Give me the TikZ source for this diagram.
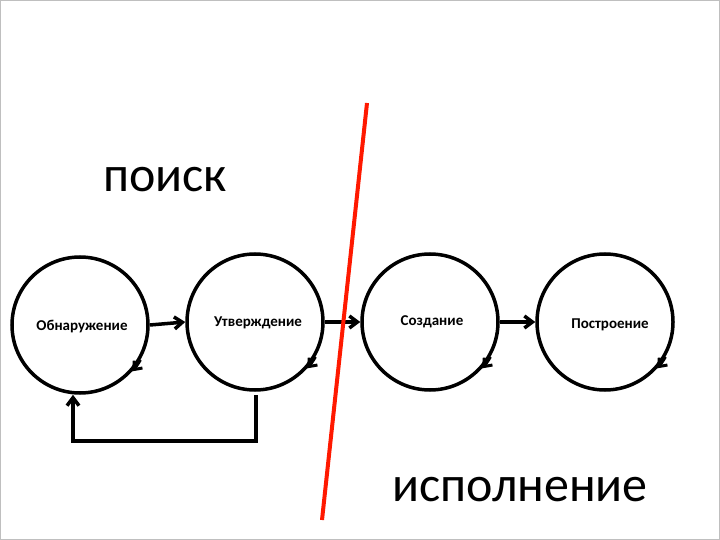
\documentclass[tikz,border=0pt]{standalone}
\usepackage{fontspec}
\setmainfont{Carlito}
\usetikzlibrary{arrows.meta}
\begin{document}
\begin{tikzpicture}[x=1pt,y=-1pt,
  circ/.style={draw,line width=3.5pt,circle,minimum size=136pt,inner sep=0pt},
  lbl/.style={font=\fontsize{15}{17}\selectfont\bfseries},
  conn/.style={line width=3.5pt,-{Straight Barb[length=8pt,width=12pt]}}]
\useasboundingbox (0,0) rectangle (720,540);
\draw[gray!50] (0.5,0.5) rectangle (719.5,539.5);
\node[circ] (c1) at (80,325) {};
\node[circ] (c2) at (255,322) {};
\node[circ] (c3) at (430,322) {};
\node[circ] (c4) at (605,322) {};
\node[lbl] at (82,327) {Обнаружение};
\node[lbl] at (258,323) {Утверждение};
\node[lbl] at (432,322) {Создание};
\node[lbl] at (610,325) {Построение};
\foreach \c in {c1,c2,c3,c4}{
  \draw[line width=3pt,-{Straight Barb[length=7pt,width=11pt]}] (\c.-30) arc[start angle=-30,end angle=-42,radius=68pt];
}
\draw[conn] (c1.east) -- (c2.west);
\draw[conn] (c2.east) -- (c3.west);
\draw[conn] (c3.east) -- (c4.west);
\coordinate (f1) at (256,441);
\coordinate (f2) at (73,441);
\draw[conn] (256,395) -- (f1) -- (f2) -- (c1.south -| f2);
\draw[red!80!orange,line width=4pt] (367,103) -- (322,520);
\node[font=\fontsize{50}{56}\selectfont] (p) at (165,180) {поиск};
\node[font=\fontsize{50}{56}\selectfont] (i) at (520,490) {исполнение};
\end{tikzpicture}
\end{document}
